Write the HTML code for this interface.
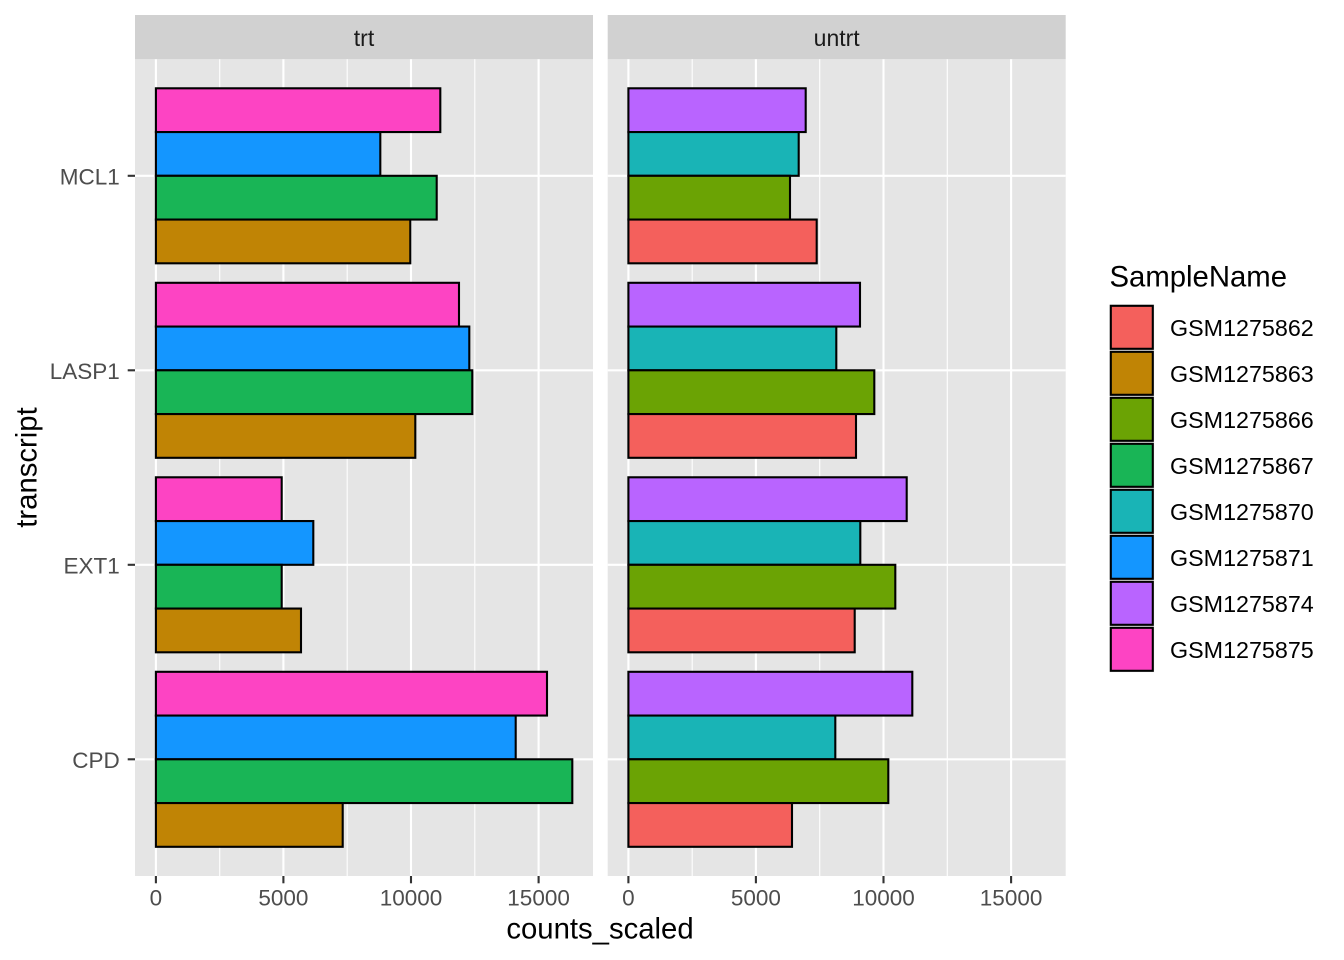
<!DOCTYPE html>
<html>
<head>
<meta charset="utf-8">
<style>
html,body{margin:0;padding:0;background:#fff;}
svg{display:block;}
text{font-family:"Liberation Sans",Arial,Helvetica,sans-serif;}
</style>
</head>
<body>
<svg width="1344" height="960" viewBox="0 0 1344 960" xmlns="http://www.w3.org/2000/svg">
<rect x="0" y="0" width="1344" height="960" fill="#ffffff"/>

<!-- Strips -->
<rect x="135" y="15" width="458" height="44.3" fill="#D1D1D1"/>
<rect x="607.7" y="15" width="458" height="44.3" fill="#D1D1D1"/>
<text x="364" y="46" font-size="23" fill="#1A1A1A" text-anchor="middle">trt</text>
<text x="836.7" y="46" font-size="23" fill="#1A1A1A" text-anchor="middle">untrt</text>

<!-- Panels -->
<rect x="135" y="59.3" width="458" height="816.7" fill="#E5E5E5"/>
<rect x="607.7" y="59.3" width="458" height="816.7" fill="#E5E5E5"/>

<!-- Minor grid -->
<g stroke="#FFFFFF" stroke-width="1.1">
<line x1="219.7" y1="59.3" x2="219.7" y2="876"/>
<line x1="347.2" y1="59.3" x2="347.2" y2="876"/>
<line x1="474.8" y1="59.3" x2="474.8" y2="876"/>
<line x1="692.2" y1="59.3" x2="692.2" y2="876"/>
<line x1="819.7" y1="59.3" x2="819.7" y2="876"/>
<line x1="947.3" y1="59.3" x2="947.3" y2="876"/>
</g>
<!-- Major grid -->
<g stroke="#FFFFFF" stroke-width="2.1">
<line x1="155.9" y1="59.3" x2="155.9" y2="876"/>
<line x1="283.4" y1="59.3" x2="283.4" y2="876"/>
<line x1="411" y1="59.3" x2="411" y2="876"/>
<line x1="538.6" y1="59.3" x2="538.6" y2="876"/>
<line x1="628.4" y1="59.3" x2="628.4" y2="876"/>
<line x1="755.9" y1="59.3" x2="755.9" y2="876"/>
<line x1="883.5" y1="59.3" x2="883.5" y2="876"/>
<line x1="1011.1" y1="59.3" x2="1011.1" y2="876"/>
<line x1="135" y1="175.8" x2="593" y2="175.8"/>
<line x1="135" y1="370.3" x2="593" y2="370.3"/>
<line x1="135" y1="564.8" x2="593" y2="564.8"/>
<line x1="135" y1="759.3" x2="593" y2="759.3"/>
<line x1="607.7" y1="175.8" x2="1065.7" y2="175.8"/>
<line x1="607.7" y1="370.3" x2="1065.7" y2="370.3"/>
<line x1="607.7" y1="564.8" x2="1065.7" y2="564.8"/>
<line x1="607.7" y1="759.3" x2="1065.7" y2="759.3"/>
</g>

<!-- Bars trt -->
<g stroke="#000000" stroke-width="2.1">
<rect x="155.9" y="88.3" width="284.4" height="43.75" fill="#FD44C3"/>
<rect x="155.9" y="132.05" width="224.4" height="43.75" fill="#1496FF"/>
<rect x="155.9" y="175.8" width="280.8" height="43.75" fill="#19B556"/>
<rect x="155.9" y="219.55" width="254.4" height="43.75" fill="#C08405"/>

<rect x="155.9" y="282.8" width="303.1" height="43.75" fill="#FD44C3"/>
<rect x="155.9" y="326.55" width="313.4" height="43.75" fill="#1496FF"/>
<rect x="155.9" y="370.3" width="316.4" height="43.75" fill="#19B556"/>
<rect x="155.9" y="414.05" width="259.4" height="43.75" fill="#C08405"/>

<rect x="155.9" y="477.3" width="125.8" height="43.75" fill="#FD44C3"/>
<rect x="155.9" y="521.05" width="157.4" height="43.75" fill="#1496FF"/>
<rect x="155.9" y="564.8" width="125.8" height="43.75" fill="#19B556"/>
<rect x="155.9" y="608.55" width="145.1" height="43.75" fill="#C08405"/>

<rect x="155.9" y="671.8" width="391.1" height="43.75" fill="#FD44C3"/>
<rect x="155.9" y="715.55" width="359.8" height="43.75" fill="#1496FF"/>
<rect x="155.9" y="759.3" width="416.4" height="43.75" fill="#19B556"/>
<rect x="155.9" y="803.05" width="186.8" height="43.75" fill="#C08405"/>

<!-- Bars untrt -->
<rect x="628.4" y="88.3" width="177.3" height="43.75" fill="#B964FF"/>
<rect x="628.4" y="132.05" width="170.3" height="43.75" fill="#19B4B6"/>
<rect x="628.4" y="175.8" width="161.6" height="43.75" fill="#6BA304"/>
<rect x="628.4" y="219.55" width="188.3" height="43.75" fill="#F4605C"/>

<rect x="628.4" y="282.8" width="231.6" height="43.75" fill="#B964FF"/>
<rect x="628.4" y="326.55" width="207.9" height="43.75" fill="#19B4B6"/>
<rect x="628.4" y="370.3" width="245.9" height="43.75" fill="#6BA304"/>
<rect x="628.4" y="414.05" width="227.6" height="43.75" fill="#F4605C"/>

<rect x="628.4" y="477.3" width="278.3" height="43.75" fill="#B964FF"/>
<rect x="628.4" y="521.05" width="231.9" height="43.75" fill="#19B4B6"/>
<rect x="628.4" y="564.8" width="266.9" height="43.75" fill="#6BA304"/>
<rect x="628.4" y="608.55" width="226.3" height="43.75" fill="#F4605C"/>

<rect x="628.4" y="671.8" width="283.9" height="43.75" fill="#B964FF"/>
<rect x="628.4" y="715.55" width="206.9" height="43.75" fill="#19B4B6"/>
<rect x="628.4" y="759.3" width="259.9" height="43.75" fill="#6BA304"/>
<rect x="628.4" y="803.05" width="163.6" height="43.75" fill="#F4605C"/>
</g>

<!-- Axis ticks -->
<g stroke="#333333" stroke-width="2.1">
<line x1="155.9" y1="876" x2="155.9" y2="883.3"/>
<line x1="283.4" y1="876" x2="283.4" y2="883.3"/>
<line x1="411" y1="876" x2="411" y2="883.3"/>
<line x1="538.6" y1="876" x2="538.6" y2="883.3"/>
<line x1="628.4" y1="876" x2="628.4" y2="883.3"/>
<line x1="755.9" y1="876" x2="755.9" y2="883.3"/>
<line x1="883.5" y1="876" x2="883.5" y2="883.3"/>
<line x1="1011.1" y1="876" x2="1011.1" y2="883.3"/>
<line x1="127.7" y1="175.8" x2="135" y2="175.8"/>
<line x1="127.7" y1="370.3" x2="135" y2="370.3"/>
<line x1="127.7" y1="564.8" x2="135" y2="564.8"/>
<line x1="127.7" y1="759.3" x2="135" y2="759.3"/>
</g>

<!-- X tick labels -->
<g font-size="22.5" fill="#4D4D4D" text-anchor="middle">
<text x="155.9" y="905.5">0</text>
<text x="283.4" y="905.5">5000</text>
<text x="411" y="905.5">10000</text>
<text x="538.6" y="905.5">15000</text>
<text x="628.4" y="905.5">0</text>
<text x="755.9" y="905.5">5000</text>
<text x="883.5" y="905.5">10000</text>
<text x="1011.1" y="905.5">15000</text>
</g>

<!-- Y tick labels -->
<g font-size="22.5" fill="#4D4D4D" text-anchor="end">
<text x="119.8" y="184.3">MCL1</text>
<text x="119.8" y="378.8">LASP1</text>
<text x="119.8" y="573.3">EXT1</text>
<text x="119.8" y="767.8">CPD</text>
</g>

<!-- Axis titles -->
<text x="600" y="938.5" font-size="29.3" fill="#000000" text-anchor="middle">counts_scaled</text>
<text transform="translate(36.5,467.5) rotate(-90)" x="0" y="0" font-size="29.3" fill="#000000" text-anchor="middle">transcript</text>

<!-- Legend -->
<text x="1109.5" y="286.7" font-size="29.3" fill="#000000">SampleName</text>
<rect x="1109.3" y="304.3" width="45" height="368" fill="#F2F2F2"/>
<g stroke="#000000" stroke-width="2.1">
<rect x="1110.8" y="305.8" width="42" height="43" fill="#F4605C"/>
<rect x="1110.8" y="351.8" width="42" height="43" fill="#C08405"/>
<rect x="1110.8" y="397.8" width="42" height="43" fill="#6BA304"/>
<rect x="1110.8" y="443.8" width="42" height="43" fill="#19B556"/>
<rect x="1110.8" y="489.8" width="42" height="43" fill="#19B4B6"/>
<rect x="1110.8" y="535.8" width="42" height="43" fill="#1496FF"/>
<rect x="1110.8" y="581.8" width="42" height="43" fill="#B964FF"/>
<rect x="1110.8" y="627.8" width="42" height="43" fill="#FD44C3"/>
</g>
<g font-size="23.3" fill="#000000">
<text x="1170" y="335.8">GSM1275862</text>
<text x="1170" y="381.8">GSM1275863</text>
<text x="1170" y="427.8">GSM1275866</text>
<text x="1170" y="473.8">GSM1275867</text>
<text x="1170" y="519.8">GSM1275870</text>
<text x="1170" y="565.8">GSM1275871</text>
<text x="1170" y="611.8">GSM1275874</text>
<text x="1170" y="657.8">GSM1275875</text>
</g>
</svg>
</body>
</html>
